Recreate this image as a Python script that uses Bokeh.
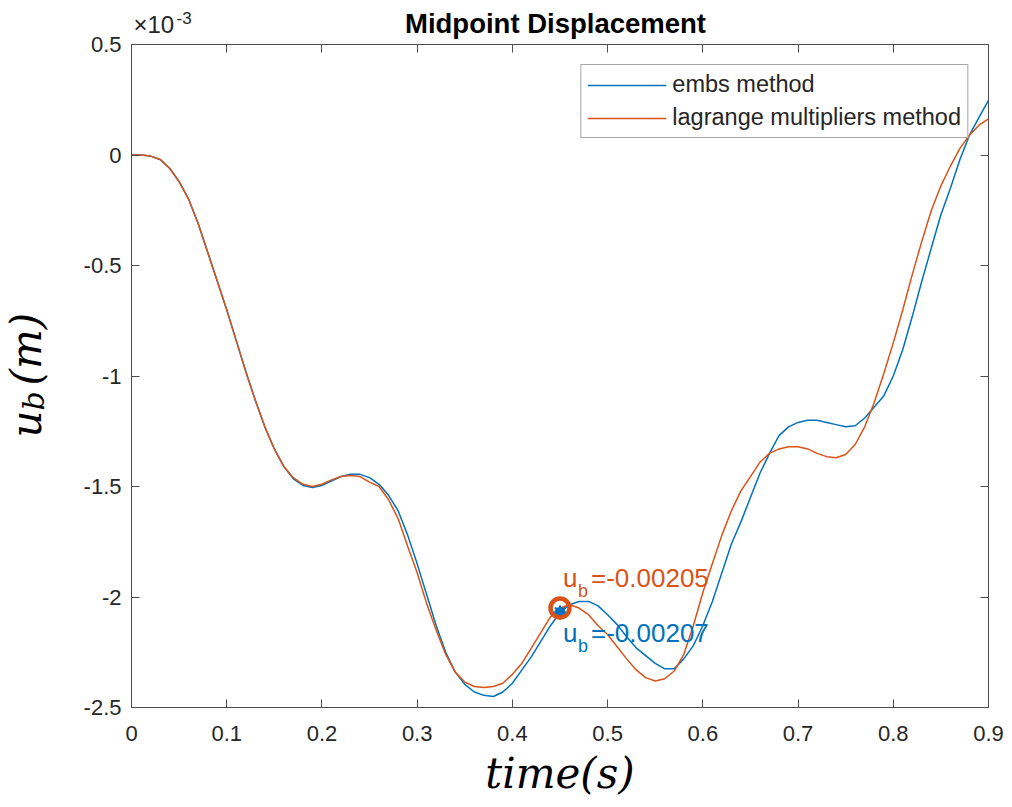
import math
from bokeh.plotting import figure
from bokeh.layouts import column, row
from bokeh.models import (Range1d, FixedTicker, LinearAxis, Legend, LegendItem,
                          CustomJSTickFormatter)
from bokeh.core.properties import value
from bokeh.embed import file_html
from bokeh.resources import INLINE

# ---------------- data (displacement in units of 1e-3 m) ----------------
time_s = [0.00, 0.01, 0.02, 0.03, 0.04, 0.05, 0.06, 0.07, 0.08, 0.09,
          0.10, 0.11, 0.12, 0.13, 0.14, 0.15, 0.16, 0.17, 0.18, 0.19,
          0.20, 0.21, 0.22, 0.23, 0.24, 0.25, 0.26, 0.27, 0.28, 0.29,
          0.30, 0.31, 0.32, 0.33, 0.34, 0.35, 0.36, 0.37, 0.38, 0.39,
          0.40, 0.41, 0.42, 0.43, 0.44, 0.45, 0.46, 0.47, 0.48, 0.49,
          0.50, 0.51, 0.52, 0.53, 0.54, 0.55, 0.56, 0.57, 0.58, 0.59,
          0.60, 0.61, 0.62, 0.63, 0.64, 0.65, 0.66, 0.67, 0.68, 0.69,
          0.70, 0.71, 0.72, 0.73, 0.74, 0.75, 0.76, 0.77, 0.78, 0.79,
          0.80, 0.81, 0.82, 0.83, 0.84, 0.85, 0.86, 0.87, 0.88, 0.89, 0.90]

ub_embs = [0.0, 0.0, -0.005, -0.02, -0.06, -0.12, -0.20, -0.31, -0.44, -0.57,
           -0.70, -0.84, -0.98, -1.11, -1.23, -1.33, -1.41, -1.465, -1.495, -1.505,
           -1.495, -1.475, -1.455, -1.445, -1.445, -1.46, -1.49, -1.54, -1.61, -1.72,
           -1.85, -1.99, -2.13, -2.25, -2.34, -2.395, -2.43, -2.445, -2.45, -2.43,
           -2.39, -2.33, -2.27, -2.20, -2.13, -2.07, -2.035, -2.02, -2.02, -2.04,
           -2.08, -2.125, -2.18, -2.23, -2.265, -2.30, -2.325, -2.325, -2.28, -2.22,
           -2.13, -2.02, -1.89, -1.76, -1.66, -1.55, -1.44, -1.35, -1.27, -1.23,
           -1.21, -1.20, -1.20, -1.21, -1.22, -1.23, -1.225, -1.19, -1.14, -1.09,
           -1.00, -0.88, -0.73, -0.57, -0.42, -0.27, -0.15, -0.02, 0.09, 0.17, 0.247]

ub_lagrange = [0.0, 0.0, -0.005, -0.02, -0.06, -0.12, -0.20, -0.31, -0.44, -0.57,
               -0.70, -0.84, -0.98, -1.11, -1.23, -1.33, -1.41, -1.46, -1.49, -1.50,
               -1.49, -1.47, -1.455, -1.45, -1.455, -1.48, -1.50, -1.56, -1.645, -1.77,
               -1.89, -2.03, -2.15, -2.26, -2.34, -2.385, -2.405, -2.41, -2.405, -2.39,
               -2.35, -2.30, -2.23, -2.16, -2.09, -2.05, -2.035, -2.05, -2.08, -2.13,
               -2.17, -2.225, -2.28, -2.33, -2.365, -2.38, -2.37, -2.335, -2.26, -2.13,
               -1.98, -1.85, -1.72, -1.61, -1.52, -1.455, -1.39, -1.35, -1.33, -1.32,
               -1.32, -1.33, -1.35, -1.365, -1.37, -1.355, -1.31, -1.23, -1.12, -0.99,
               -0.85, -0.70, -0.54, -0.39, -0.25, -0.14, -0.05, 0.03, 0.09, 0.135, 0.164]

# data tips
tip_time = [0.45]
tip_embs = [-2.07]
tip_lagrange = [-2.05]
tip_embs_text = ["=-0.00207"]
tip_lagrange_text = ["=-0.00205"]

x_ticks = [0.0, 0.1, 0.2, 0.3, 0.4, 0.5, 0.6, 0.7, 0.8, 0.9]
x_tick_labels = ["0", "0.1", "0.2", "0.3", "0.4", "0.5", "0.6", "0.7", "0.8", "0.9"]
y_ticks = [-2.5, -2.0, -1.5, -1.0, -0.5, 0.0, 0.5]
y_tick_labels = ["-2.5", "-2", "-1.5", "-1", "-0.5", "0", "0.5"]

BLUE = "#0072BD"
ORANGE = "#D95319"
AXC = "#4d4d4d"
TXT = "#262626"

TOP_H = 44      # strip holding title and exponent
OVERLAP = 14    # main plot slides up under the strip so the top tick label is not cut
LEFT_W = 60     # strip holding the y label
TOTAL_W = 1010
BOTTOM_B = 97
MAIN_H = OVERLAP + 663 + BOTTOM_B


def bare(fig):
    fig.background_fill_color = "white"
    fig.border_fill_color = "white"
    fig.border_fill_alpha = 0
    fig.background_fill_alpha = 0
    fig.outline_line_color = None
    fig.grid.visible = False
    return fig


# ---------------- main plot ----------------
p = figure(width=TOTAL_W - LEFT_W, height=MAIN_H, output_backend="svg", toolbar_location=None,
           title=None,
           x_range=Range1d(0, 0.9), y_range=Range1d(-2.5, 0.5),
           x_axis_location=None, y_axis_location=None,
           min_border_left=71, min_border_right=22, min_border_top=OVERLAP,
           min_border_bottom=BOTTOM_B)
p.background_fill_color = "white"
p.border_fill_color = "white"
p.border_fill_alpha = 0
p.outline_line_color = AXC
p.outline_line_width = 1
p.grid.visible = False


def style_axis(ax, ticks, overrides, show_labels):
    ax.ticker = FixedTicker(ticks=ticks, minor_ticks=[])
    ax.major_tick_in = 8
    ax.major_tick_out = 0
    ax.minor_tick_in = 0
    ax.minor_tick_out = 0
    ax.major_tick_line_color = AXC
    ax.axis_line_color = AXC
    if show_labels:
        ax.major_label_overrides = overrides
        ax.major_label_text_font = "Liberation Sans"
        ax.major_label_text_font_size = "22px"
        ax.major_label_text_color = TXT
    else:
        ax.formatter = CustomJSTickFormatter(code="return ''")
        ax.major_label_standoff = 0
        ax.major_label_text_font_size = "0px"
        ax.axis_line_color = None


xb = LinearAxis()
style_axis(xb, x_ticks, {t: l for t, l in zip(x_ticks, x_tick_labels)}, True)
xb.major_label_standoff = 18
xb.axis_label = "time(s)"
xb.axis_label_text_font = "DejaVu Serif"
xb.axis_label_text_font_style = "italic"
xb.axis_label_text_font_size = "42px"
xb.axis_label_text_color = "black"
xb.axis_label_standoff = 5
p.add_layout(xb, "below")

yl = LinearAxis()
style_axis(yl, y_ticks, {t: l for t, l in zip(y_ticks, y_tick_labels)}, True)
yl.major_label_standoff = 10
p.add_layout(yl, "left")

xt = LinearAxis()
style_axis(xt, x_ticks, {}, False)
p.add_layout(xt, "above")

yr = LinearAxis()
style_axis(yr, y_ticks, {}, False)
p.add_layout(yr, "right")

# curves
r_embs = p.line(time_s, ub_embs, line_color=BLUE, line_width=1.5)
r_lag = p.line(time_s, ub_lagrange, line_color=ORANGE, line_width=1.5)

# data tip markers
p.scatter(tip_time, tip_embs, marker="circle", size=10, fill_color=BLUE, line_color=BLUE)
p.scatter(tip_time, tip_embs, marker="asterisk", size=14, line_color=BLUE, line_width=2)
p.scatter(tip_time, tip_lagrange, marker="circle", size=19, fill_color=None,
          line_color=ORANGE, line_width=4.5)


def tip_text(ys, txt, color, dy_main, dy_sub):
    p.text(tip_time, ys, text=["u"], text_color=color, text_font=value("Liberation Sans"),
           text_font_size="26px", x_offset=3, y_offset=dy_main, text_baseline="alphabetic")
    p.text(tip_time, ys, text=["b"], text_color=color, text_font=value("Liberation Sans"),
           text_font_size="18px", x_offset=18, y_offset=dy_sub, text_baseline="alphabetic")
    p.text(tip_time, ys, text=txt, text_color=color, text_font=value("Liberation Sans"),
           text_font_size="26px", x_offset=31, y_offset=dy_main, text_baseline="alphabetic")


tip_text(tip_lagrange, tip_lagrange_text, ORANGE, -30, -17)
tip_text(tip_embs, tip_embs_text, BLUE, 21, 34)

legend = Legend(items=[LegendItem(label="embs method", renderers=[r_embs]),
                       LegendItem(label="lagrange multipliers method", renderers=[r_lag])],
                location="top_right")
legend.margin = 20
legend.padding = 6
legend.spacing = 6
legend.glyph_width = 79
legend.glyph_height = 26
legend.label_height = 26
legend.label_standoff = 6
legend.label_text_font = "Liberation Sans"
legend.label_text_font_size = "23.5px"
legend.label_text_color = TXT
legend.border_line_color = AXC
legend.border_line_width = 1
legend.background_fill_color = "white"
legend.background_fill_alpha = 1
p.add_layout(legend, "center")

# ---------------- top strip: title and exponent (pixel coordinates, y down) ----------------
top = bare(figure(width=TOTAL_W, height=TOP_H, output_backend="svg", toolbar_location=None,
                  title=None,
                  x_range=Range1d(0, TOTAL_W), y_range=Range1d(TOP_H, 0),
                  x_axis_location=None, y_axis_location=None,
                  min_border=0, min_border_left=0, min_border_right=0,
                  min_border_top=0, min_border_bottom=0))
top.margin = (0, 0, -OVERLAP, 0)
top.text(x=[555], y=[23], text=["Midpoint Displacement"], text_font=value("Liberation Sans"),
         text_font_size="27.5px", text_font_style="bold", text_color="black",
         text_align="center", text_baseline="alphabetic")
top.text(x=[133], y=[24], text=["×10"], text_font=value("Liberation Sans"),
         text_font_size="24px", text_color=TXT, text_baseline="alphabetic")
top.text(x=[176], y=[17], text=["-3"], text_font=value("Liberation Sans"),
         text_font_size="17px", text_color=TXT, text_baseline="alphabetic")

# ---------------- left strip: y label (shares the main y scale) ----------------
left = bare(figure(width=LEFT_W, height=MAIN_H, output_backend="svg", toolbar_location=None,
                   title=None,
                   x_range=Range1d(0, LEFT_W), y_range=p.y_range,
                   x_axis_location=None, y_axis_location=None,
                   min_border=0, min_border_left=0, min_border_right=0,
                   min_border_top=OVERLAP, min_border_bottom=BOTTOM_B))
ang = math.pi / 2
left.text(x=[26], y=[-1.278], text=["u"], angle=ang, text_font=value("DejaVu Serif"),
          text_font_size="42px", text_font_style="italic", text_color="black",
          text_baseline="alphabetic")
left.text(x=[33], y=[-1.156], text=["b"], angle=ang, text_font=value("DejaVu Serif"),
          text_font_size="30px", text_font_style="italic", text_color="black",
          text_baseline="alphabetic")
left.text(x=[26], y=[-1.043], text=["(m)"], angle=ang, text_font=value("DejaVu Serif"),
          text_font_size="42px", text_font_style="italic", text_color="black",
          text_baseline="alphabetic")

layout = column(top, row(left, p))
open("out.html", "w").write(file_html(layout, INLINE))
